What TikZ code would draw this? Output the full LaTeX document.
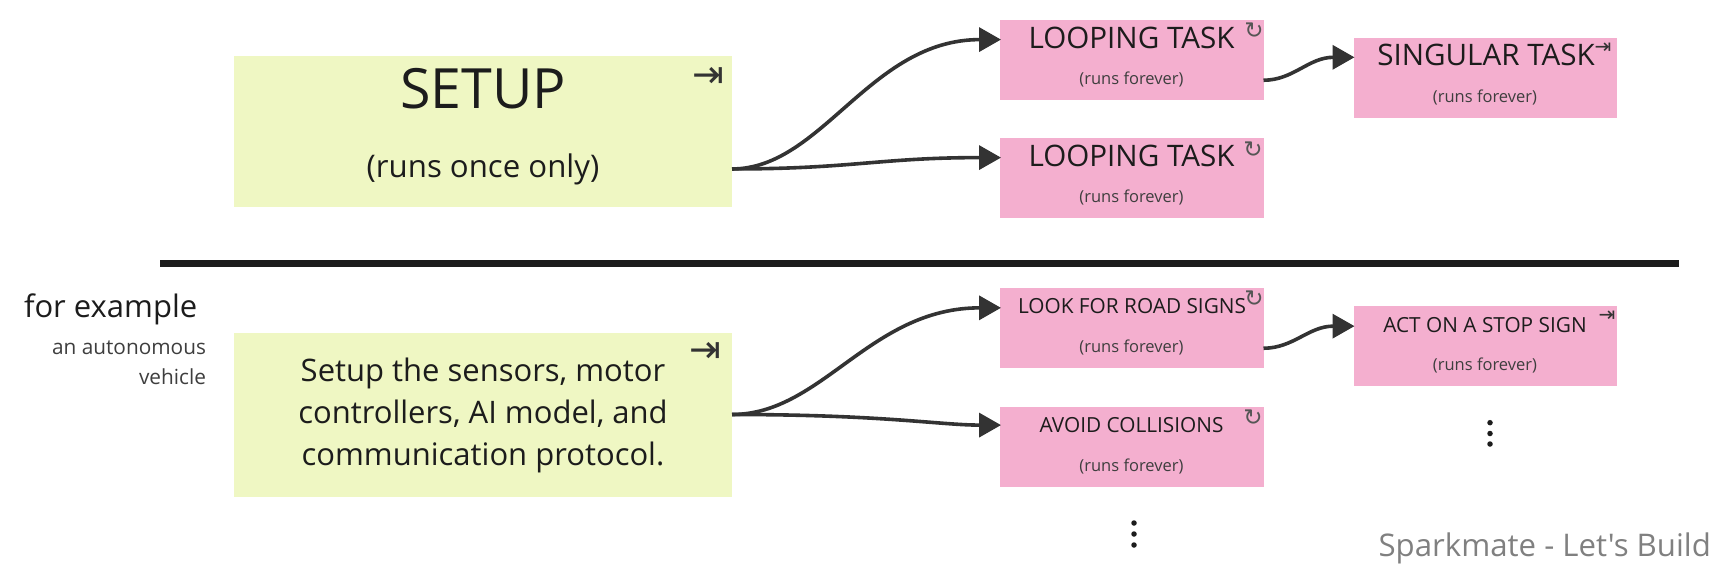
\documentclass[tikz,border=0pt]{standalone}
\usepackage{fontspec}
\setmainfont{Open Sans}
\newfontfamily\brandfont{Open Sans}
\newfontfamily\iconfont{DejaVu Sans}
\usetikzlibrary{arrows.meta,calc}
\definecolor{limebox}{HTML}{EFF7C3}
\definecolor{pinkbox}{HTML}{F4AFCF}
\definecolor{inkdark}{HTML}{1C1C1C}
\definecolor{linkgrey}{HTML}{333333}
\newcommand{\fsz}[2]{\fontsize{#1}{#2}\selectfont}
\tikzset{
  x=1pt,y=-1pt,
  every node/.style={inner sep=0pt,outer sep=0pt,text=inkdark},
  setupbox/.style={fill=limebox,draw=none,anchor=north west,minimum width=498pt},
  taskbox/.style={fill=pinkbox,draw=none,anchor=north west,minimum width=263.5pt,minimum height=80pt},
  label/.style={anchor=base},
  bigtitle/.style={label,font=\fsz{55.5}{60}},
  subtitle/.style={label,font=\fsz{31.2}{36}},
  tasktitle/.style={label,font=\fsz{29.6}{34}},
  smalltitle/.style={label,font=\fsz{20.8}{25}},
  runs/.style={label,font=\fsz{16.5}{20},text=inkdark!85},
  once/.style={anchor=center,font=\iconfont\fsz{#1}{#1},text=inkdark!90},
  loopy/.style={anchor=center,font=\iconfont\fsz{#1}{#1},text=inkdark!75},
  link/.style={draw=linkgrey,line width=3.6pt,shorten >=-1pt,-{Triangle[length=22pt,width=24pt]}},
  vdot/.style={circle,fill=inkdark,minimum size=5.5pt}
}
\begin{document}
\begin{tikzpicture}
\useasboundingbox (0,0) rectangle (1724,579);
% boxes
\node[setupbox,minimum height=151pt] (setup) at (234,56) {};
\node[setupbox,minimum height=164pt] (setupb) at (234,332.5) {};
\node[taskbox] (loopa) at (1000,20) {};
\node[taskbox] (loopb) at (1000,138) {};
\node[taskbox] (single) at (1353.5,37.7) {};
\node[taskbox] (road) at (1000,288) {};
\node[taskbox] (stop) at (1353.5,306.3) {};
\node[taskbox] (avoid) at (1000,406.7) {};
% divider
\coordinate (divl) at (160,263.5);
\coordinate (divr) at (1679,263.5);
\draw[inkdark,line width=7.5pt] (divl) -- (divr);
% texts
\node[bigtitle] (t1) at (483,108.5) {SETUP};
\node[subtitle] (t2) at (483,177) {(runs once only)};
\node[anchor=center,align=center,font=\fsz{31}{42}] (t3) at (483,415) {Setup the sensors, motor\\controllers, AI model, and\\communication protocol.};
\node[anchor=base west,font=\fsz{31}{36}] (t4) at (24,317) {for example};
\node[anchor=north east,align=right,font=\fsz{20.8}{30},text=inkdark!85] (t5) at (206,341) {an autonomous\\vehicle};
\node[tasktitle] (a1) at (1131.5,48.5) {LOOPING TASK};
\node[runs] (a2) at (1131.5,84) {(runs forever)};
\node[tasktitle] (b1) at (1131.5,166.5) {LOOPING TASK};
\node[runs] (b2) at (1131.5,202.7) {(runs forever)};
\node[tasktitle] (c1) at (1486,65) {SINGULAR TASK};
\node[runs] (c2) at (1485,102.3) {(runs forever)};
\node[smalltitle] (d1) at (1132,313.7) {LOOK FOR ROAD SIGNS};
\node[runs] (d2) at (1131.5,352.7) {(runs forever)};
\node[smalltitle] (e1) at (1485,332.7) {ACT ON A STOP SIGN};
\node[runs] (e2) at (1485,370.7) {(runs forever)};
\node[smalltitle] (f1) at (1131.5,432.7) {AVOID COLLISIONS};
\node[runs] (f2) at (1131.5,471.7) {(runs forever)};
\node[anchor=base east,font=\brandfont\fsz{31.2}{36},text=black!50] (brand) at (1711,556) {Sparkmate - Let's Build};
% icons
\node[once=38] (i1) at (708.5,77.5) {⇥};
\node[once=38] (i2) at (705.5,352.5) {⇥};
\node[once=20] (i3) at (1603,48) {⇥};
\node[once=20] (i4) at (1607,316) {⇥};
\node[loopy=23] (i5) at (1254,31) {↻};
\node[loopy=23] (i6) at (1253,150) {↻};
\node[loopy=23] (i7) at (1254,299) {↻};
\node[loopy=23] (i8) at (1253,418) {↻};
% dots
\node[vdot] (v1) at (1134,523) {};
\node[vdot] (v2) at (1134,534) {};
\node[vdot] (v3) at (1134,545) {};
\node[vdot] (v4) at (1490,422.7) {};
\node[vdot] (v5) at (1490,433.5) {};
\node[vdot] (v6) at (1490,444) {};
% connectors
\coordinate (sa) at ($(setup.north east)!0.748!(setup.south east)$);
\coordinate (ta) at ($(loopa.north west)!0.245!(loopa.south west)$);
\coordinate (tb) at ($(loopb.north west)!0.245!(loopb.south west)$);
\coordinate (sc) at ($(loopa.north east)!0.753!(loopa.south east)$);
\coordinate (tc) at ($(single.north west)!0.245!(single.south west)$);
\coordinate (td) at ($(road.north west)!0.248!(road.south west)$);
\coordinate (te) at ($(avoid.north west)!0.23!(avoid.south west)$);
\coordinate (sf) at ($(road.north east)!0.753!(road.south east)$);
\coordinate (tf) at ($(stop.north west)!0.248!(stop.south west)$);
\draw[link] (sa) .. controls +(90,0) and +(-130,0) .. (ta);
\draw[link] (sa) .. controls +(120,0) and +(-120,0) .. (tb);
\draw[link] (sc) .. controls +(30,0) and +(-45,0) .. (tc);
\draw[link] (setupb.east) .. controls +(90,0) and +(-130,0) .. (td);
\draw[link] (setupb.east) .. controls +(150,0) and +(-60,0) .. (te);
\draw[link] (sf) .. controls +(30,0) and +(-45,0) .. (tf);
\end{tikzpicture}
\end{document}
